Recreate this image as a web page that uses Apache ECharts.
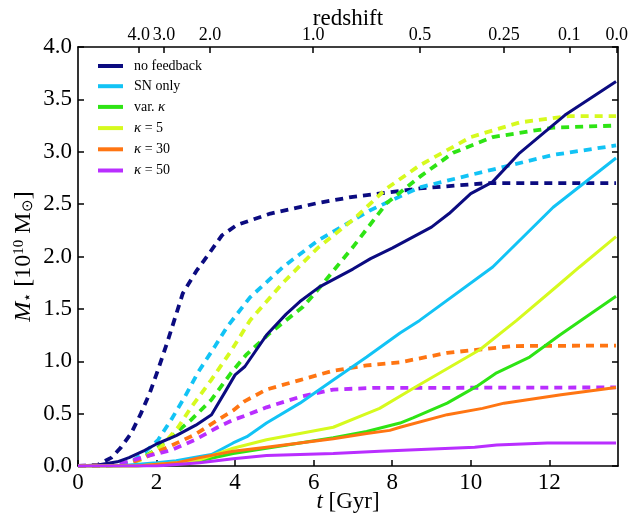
<!DOCTYPE html>
<html>
<head>
<meta charset="utf-8">
<script src="https://cdn.jsdelivr.net/npm/echarts@6/dist/echarts.min.js"></script>
<style>
html,body{margin:0;padding:0;background:#fff;}
#chart{width:634px;height:515px;}
</style>
</head>
<body>
<div id="chart"></div>
<script>
// ---- data (t [Gyr], M* [1e10 Msun]) ----
const seriesNames = ['no feedback', 'SN only', 'var. κ', 'κ = 5', 'κ = 30', 'κ = 50'];
const seriesColors = ['#0b0b80', '#12c3f5', '#2ee414', '#d6fa1e', '#ff7512', '#b92eff'];

const noFeedbackSolid = [[0,0],[0.5,0.01],[1.0,0.04],[1.3,0.08],[1.7,0.15],[2.0,0.21],[2.5,0.29],[3.0,0.39],[3.4,0.49],[3.75,0.71],[4.0,0.87],[4.25,0.95],[4.8,1.25],[5.3,1.45],[5.65,1.57],[6.15,1.71],[7.0,1.88],[7.45,1.98],[8.0,2.08],[8.5,2.18],[9.0,2.28],[9.45,2.41],[10.0,2.6],[10.55,2.71],[11.25,2.99],[12.4,3.35],[13.7,3.67]];
const noFeedbackDashed = [[0,0],[0.5,0.01],[0.85,0.08],[1.1,0.18],[1.35,0.31],[1.6,0.5],[1.83,0.7],[2.04,0.92],[2.29,1.2],[2.67,1.65],[3.03,1.87],[3.36,2.04],[3.66,2.2],[4.04,2.3],[4.9,2.41],[6.1,2.51],[7.0,2.57],[8.7,2.65],[10.4,2.7],[13.7,2.7]];
const snSolid = [[0,0],[1.0,0.0],[2.0,0.03],[2.5,0.05],[3.1,0.09],[3.4,0.11],[3.95,0.22],[4.3,0.28],[4.8,0.41],[5.65,0.6],[6.5,0.82],[7.35,1.04],[8.2,1.27],[8.7,1.39],[10.56,1.9],[12.1,2.47],[13.7,2.94]];
const snDashed = [[0,0],[1.0,0.01],[1.4,0.05],[1.7,0.13],[2.04,0.25],[2.37,0.44],[2.72,0.66],[3.05,0.89],[3.5,1.15],[3.8,1.33],[4.38,1.61],[5.22,1.9],[6.1,2.15],[7.43,2.44],[8.7,2.66],[10.56,2.83],[12.1,2.97],[13.7,3.06]];
const varKappaSolid = [[0,0],[1.5,0],[2.5,0.02],[3.1,0.05],[3.95,0.12],[4.8,0.17],[5.65,0.22],[6.5,0.27],[7.35,0.33],[8.2,0.41],[8.53,0.46],[9.4,0.6],[10.15,0.76],[10.66,0.89],[11.5,1.04],[12.27,1.25],[13.7,1.62]];
const varKappaDashed = [[0,0],[1.2,0.01],[1.6,0.07],[1.96,0.15],[2.37,0.28],[2.88,0.44],[3.39,0.63],[3.9,0.89],[4.28,1.06],[4.89,1.27],[5.73,1.52],[6.1,1.68],[7.0,2.09],[7.86,2.51],[8.7,2.76],[9.55,2.99],[10.56,3.14],[12.1,3.23],[13.7,3.25]];
const kappa5Solid = [[0,0],[1.5,0],[2.5,0.03],[3.1,0.06],[3.95,0.17],[4.8,0.25],[5.65,0.31],[6.5,0.37],[7.35,0.5],[7.68,0.55],[8.53,0.74],[10.23,1.11],[11.17,1.39],[12.27,1.74],[12.77,1.9],[13.7,2.19]];
const kappa5Dashed = [[0,0],[1.2,0.01],[1.6,0.06],[2.11,0.18],[2.55,0.37],[2.88,0.56],[3.39,0.82],[3.9,1.1],[4.38,1.39],[5.22,1.75],[6.1,2.08],[7.0,2.35],[7.86,2.65],[8.7,2.87],[10.0,3.14],[11.25,3.28],[12.5,3.34],[13.7,3.34]];
const kappa30Solid = [[0,0],[1.5,0],[2.5,0.03],[3.1,0.08],[3.95,0.14],[4.8,0.18],[5.65,0.22],[6.5,0.26],[7.35,0.31],[7.94,0.34],[8.2,0.37],[9.4,0.49],[10.3,0.55],[10.85,0.6],[12.3,0.68],[13.7,0.75]];
const kappa30Dashed = [[0,0],[1.2,0.01],[1.7,0.08],[2.29,0.18],[2.98,0.3],[3.56,0.44],[3.95,0.53],[4.25,0.62],[4.8,0.73],[5.65,0.82],[6.5,0.91],[7.35,0.96],[8.2,0.99],[9.4,1.08],[11.07,1.145],[13.7,1.15]];
const kappa50Solid = [[0,0],[2,0.0],[3.1,0.03],[3.95,0.07],[4.8,0.1],[6.5,0.12],[7.68,0.14],[10.1,0.18],[10.66,0.2],[11.95,0.22],[13.7,0.22]];
const kappa50Dashed = [[0,0],[0.9,0.01],[1.27,0.04],[1.7,0.09],[2.37,0.15],[2.98,0.25],[3.56,0.37],[3.95,0.44],[4.25,0.48],[4.8,0.56],[5.65,0.66],[6.5,0.73],[7.5,0.745],[13.7,0.75]];

const xTicks = [0, 2, 4, 6, 8, 10, 12];
const yTickLabels = ['0.0','0.5','1.0','1.5','2.0','2.5','3.0','3.5','4.0'];
const redshiftLabels = ['4.0', '3.0', '2.0', '1.0', '0.5', '0.25', '0.1', '0.0'];
const redshiftTimes = [1.55, 2.19, 3.36, 5.99, 8.71, 10.85, 12.51, 13.72];

// ---- chart ----
const solidSets = [noFeedbackSolid, snSolid, varKappaSolid, kappa5Solid, kappa30Solid, kappa50Solid];
const dashedSets = [noFeedbackDashed, snDashed, varKappaDashed, kappa5Dashed, kappa30Dashed, kappa50Dashed];
const FONT = '"Liberation Serif", "Times New Roman", serif';
const X_MAX = 13.75;

const series = [];
for (let i = 0; i < seriesNames.length; i++) {
  series.push({
    name: seriesNames[i], type: 'line', data: solidSets[i], showSymbol: false, symbol: 'none',
    lineStyle: { color: seriesColors[i], width: 3 }, itemStyle: { color: seriesColors[i] },
    z: 3, animation: false, silent: true
  });
  series.push({
    name: seriesNames[i] + ' (dashed)', type: 'line', data: dashedSets[i], showSymbol: false, symbol: 'none',
    lineStyle: { color: seriesColors[i], width: 3.8, type: [8, 6] }, itemStyle: { color: seriesColors[i] },
    z: 2, animation: false, silent: true
  });
}

const axisLineStyle = { color: '#000', width: 1.6 };
const chart = echarts.init(document.getElementById('chart'), null, { renderer: 'canvas' });
chart.setOption({
  backgroundColor: '#fff',
  animation: false,
  grid: { left: 78, right: 16, top: 47, bottom: 49, containLabel: false, outerBoundsMode: 'none' },
  legend: {
    orient: 'vertical', left: 93, top: 54,
    data: seriesNames,
    icon: 'rect', itemWidth: 25, itemHeight: 4, itemGap: 6.2,
    textStyle: {
      fontFamily: FONT, fontSize: 14, color: '#000', padding: [0, 0, 0, 6], lineHeight: 14,
      rich: { k: { fontFamily: FONT, fontSize: 15, fontStyle: 'italic', color: '#000' } }
    },
    formatter: function (n) { return n.replace('κ', '{k|κ}'); }
  },
  xAxis: [
    {
      type: 'value', position: 'bottom', min: 0, max: X_MAX, interval: 2,
      name: '{i|t} [Gyr]', nameLocation: 'middle', nameGap: 24, nameMoveOverlap: false,
      nameTextStyle: { fontFamily: FONT, fontSize: 23, color: '#000',
        rich: { i: { fontFamily: FONT, fontSize: 23, fontStyle: 'italic', color: '#000' } } },
      axisLine: { show: true, onZero: false, lineStyle: axisLineStyle },
      axisTick: { show: true, inside: true, length: 6, lineStyle: { color: '#000', width: 1.5 } },
      axisLabel: { fontFamily: FONT, fontSize: 23, color: '#000', margin: 5,
        showMaxLabel: false,
        formatter: function (v) { return xTicks.indexOf(v) >= 0 ? String(v) : ''; } },
      splitLine: { show: false }
    },
    {
      type: 'value', position: 'top', min: 0, max: X_MAX,
      name: 'redshift', nameLocation: 'middle', nameGap: 17, nameMoveOverlap: false,
      nameTextStyle: { fontFamily: FONT, fontSize: 23, color: '#000' },
      axisLine: { show: true, onZero: false, lineStyle: axisLineStyle },
      axisTick: { show: true, inside: true, length: 6, customValues: redshiftTimes, lineStyle: { color: '#000', width: 1.5 } },
      axisLabel: { fontFamily: FONT, fontSize: 18, color: '#000', margin: 3, customValues: redshiftTimes,
        formatter: function (v) {
          let best = 0;
          for (let k = 0; k < redshiftTimes.length; k++) if (Math.abs(redshiftTimes[k] - v) < Math.abs(redshiftTimes[best] - v)) best = k;
          return redshiftLabels[best];
        } },
      splitLine: { show: false }
    }
  ],
  yAxis: [
    {
      type: 'value', position: 'left', min: 0, max: 4, interval: 0.5,
      name: '{i|M}{s|⋆} [10{p|10} M{s|⊙}]', nameLocation: 'middle', nameGap: 42, nameRotate: 90, nameMoveOverlap: false,
      nameTextStyle: { fontFamily: FONT, fontSize: 24, color: '#000',
        rich: {
          i: { fontFamily: FONT, fontSize: 24, fontStyle: 'italic', color: '#000' },
          s: { fontFamily: FONT, fontSize: 15, color: '#000', verticalAlign: 'bottom', lineHeight: 20, padding: [8, 0, 0, 0] },
          p: { fontFamily: FONT, fontSize: 15, color: '#000', verticalAlign: 'top', padding: [0, 0, 8, 0] }
        } },
      axisLine: { show: true, onZero: false, lineStyle: axisLineStyle },
      axisTick: { show: true, inside: true, length: 6, lineStyle: { color: '#000', width: 1.5 } },
      axisLabel: { fontFamily: FONT, fontSize: 23, color: '#000', margin: 6,
        formatter: function (v) { return yTickLabels[Math.round(v / 0.5)]; } },
      splitLine: { show: false }
    },
    {
      type: 'value', position: 'right', min: 0, max: 4, interval: 0.5,
      axisLine: { show: true, onZero: false, lineStyle: axisLineStyle },
      axisTick: { show: true, inside: true, length: 6, lineStyle: { color: '#000', width: 1.5 } },
      axisLabel: { show: false },
      splitLine: { show: false }
    }
  ],
  series: series
});
</script>
</body>
</html>
